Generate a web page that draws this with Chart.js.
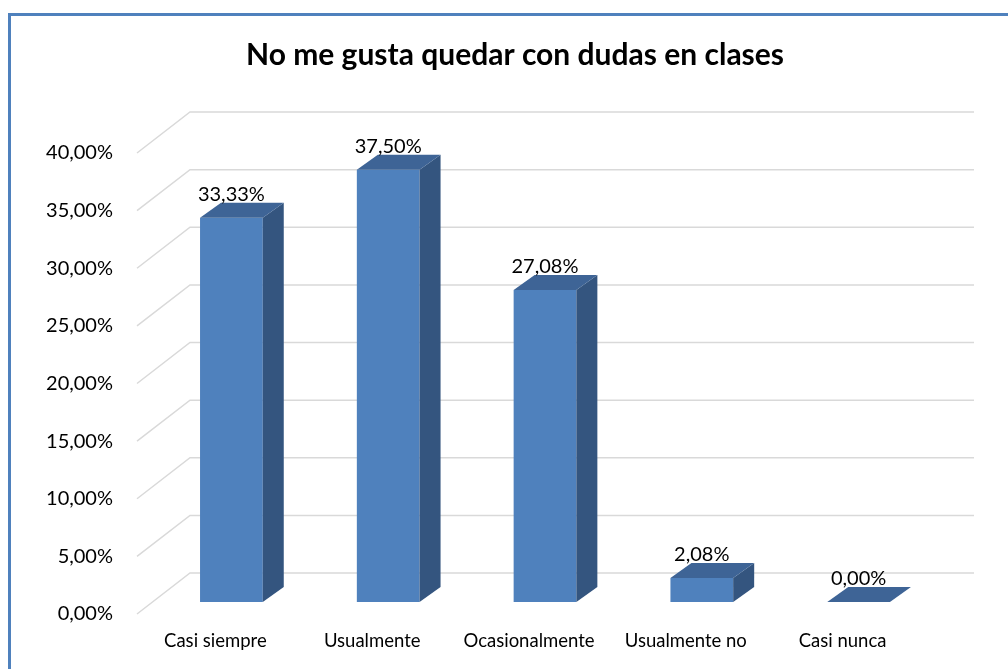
<!DOCTYPE html>
<html>
<head>
<meta charset="utf-8">
<script src="https://cdn.jsdelivr.net/npm/chart.js@4.4.1/dist/chart.umd.min.js"></script>
<style>
html, body { margin: 0; padding: 0; background: #fff; }
#wrap { width: 1008px; height: 669px; position: relative; }
</style>
</head>
<body>
<div id="wrap"><canvas id="chart"></canvas></div>
<script>
// data
const categories = ['Casi siempre', 'Usualmente', 'Ocasionalmente', 'Usualmente no', 'Casi nunca'];
const percentages = [33.33, 37.50, 27.08, 2.08, 0.00];
const tickValues = [0, 5, 10, 15, 20, 25, 30, 35, 40];
const chartTitle = 'No me gusta quedar con dudas en clases';

const FONT = 'Lato, "Open Sans", sans-serif';

function fmtPct(v) {
    return v.toFixed(2).replace('.', ',') + '%';
}

// blue frame round the chart (runs off the right and bottom) + title
const framePlugin = {
    id: 'frame',
    beforeDraw(chart) {
        const ctx = chart.ctx;
        ctx.save();
        ctx.strokeStyle = '#4f81bd';
        ctx.lineWidth = 3;
        ctx.beginPath();
        ctx.moveTo(9.5, 700);
        ctx.lineTo(9.5, 14.5);
        ctx.lineTo(1020, 14.5);
        ctx.stroke();

        // title is centred on the whole frame, not on the plot
        ctx.fillStyle = '#000';
        ctx.font = 'bold 30px ' + FONT;
        ctx.textAlign = 'center';
        ctx.textBaseline = 'alphabetic';
        ctx.fillText(chartTitle, 515, 65);
        ctx.restore();
    }
};

// back wall gridlines + floor diagonals
const wallPlugin = {
    id: 'wall',
    beforeDatasetsDraw(chart) {
        const ctx = chart.ctx;
        const y = chart.scales.y;
        const area = chart.chartArea;
        ctx.save();
        ctx.strokeStyle = '#d9d9d9';
        ctx.lineWidth = 1.5;
        tickValues.forEach(v => {
            const py = y.getPixelForValue(v);
            ctx.beginPath();
            ctx.moveTo(area.left - 16, py + 12);
            ctx.lineTo(area.left + 37, py - 29);
            ctx.lineTo(area.right + 37, py - 29);
            ctx.stroke();
        });
        ctx.restore();
    }
};

// top and side faces of the bars, plus value labels
const bar3dPlugin = {
    id: 'bar3d',
    afterDatasetsDraw(chart) {
        const ctx = chart.ctx;
        const meta = chart.getDatasetMeta(0);
        const dx = 21, dy = -15;
        ctx.save();
        meta.data.forEach((bar, i) => {
            const { x, y, base, width } = bar.getProps(['x', 'y', 'base', 'width'], true);
            const x0 = x - width / 2, x1 = x + width / 2;
            // side
            if (base - y > 0.5) {
                ctx.fillStyle = '#34557f';
                ctx.beginPath();
                ctx.moveTo(x1, y);
                ctx.lineTo(x1 + dx, y + dy);
                ctx.lineTo(x1 + dx, base + dy);
                ctx.lineTo(x1, base);
                ctx.closePath();
                ctx.fill();
            }
            // top
            ctx.fillStyle = '#3e6496';
            ctx.beginPath();
            ctx.moveTo(x0, y);
            ctx.lineTo(x1, y);
            ctx.lineTo(x1 + dx, y + dy);
            ctx.lineTo(x0 + dx, y + dy);
            ctx.closePath();
            ctx.fill();

            ctx.fillStyle = '#000';
            ctx.font = '20px ' + FONT;
            ctx.textAlign = 'center';
            ctx.textBaseline = 'alphabetic';
            ctx.fillText(fmtPct(percentages[i]), x, y - 17);
        });
        ctx.restore();
    }
};

new Chart(document.getElementById('chart'), {
    type: 'bar',
    data: {
        labels: categories,
        datasets: [{
            data: percentages,
            backgroundColor: '#4f81bd',
            borderWidth: 0,
            barPercentage: 0.4,
            categoryPercentage: 1.0
        }]
    },
    options: {
        responsive: true,
        maintainAspectRatio: false,
        animation: false,
        layout: { padding: { left: 0, right: 71, top: 141, bottom: 0 } },
        plugins: {
            legend: { display: false },
            tooltip: { enabled: false },
            title: { display: false }
        },
        scales: {
            x: {
                grid: { display: false, drawTicks: false },
                border: { display: false },
                ticks: {
                    color: '#000',
                    font: { family: FONT, size: 18.5 },
                    padding: 28,
                    labelOffset: -16,
                    maxRotation: 0
                },
                afterFit(scale) { scale.height = 67; }
            },
            y: {
                min: 0,
                max: 40,
                grid: { display: false, drawTicks: false },
                border: { display: false },
                ticks: {
                    stepSize: 5,
                    color: '#000',
                    font: { family: FONT, size: 20 },
                    padding: 40,
                    labelOffset: 12,
                    callback: v => fmtPct(v)
                },
                afterFit(scale) { scale.width = 153; }
            }
        }
    },
    plugins: [framePlugin, wallPlugin, bar3dPlugin]
});
</script>
</body>
</html>
